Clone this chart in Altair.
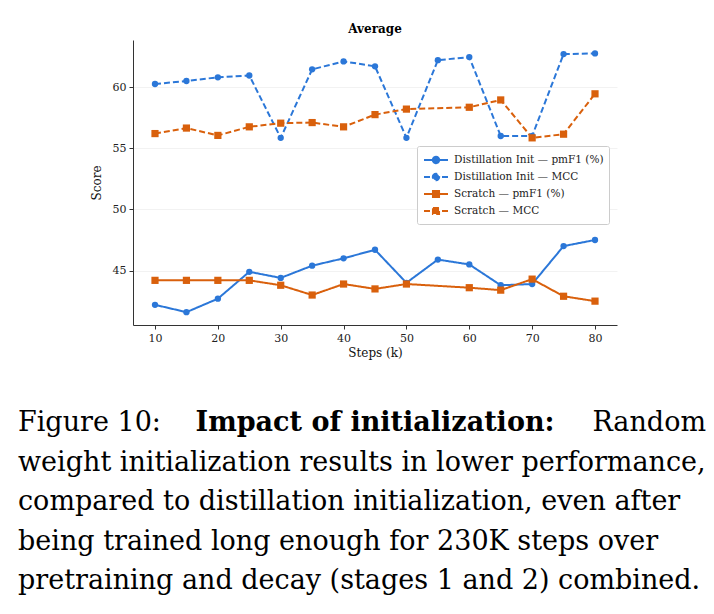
import altair as alt
import pandas as pd

# Training steps (thousands) and average scores per run
steps = [10, 15, 20, 25, 30, 35, 40, 45, 50, 55, 60, 65, 70, 75, 80]
distill_pmf1 = [42.2, 41.6, 42.7, 44.9, 44.4, 45.4, 46.0, 46.7, 44.0, 45.9, 45.5, 43.8, 43.9, 47.0, 47.5]
distill_mcc = [60.25, 60.5, 60.8, 60.95, 55.85, 61.45, 62.1, 61.7, 55.85, 62.2, 62.45, 56.0, 56.0, 62.7, 62.75]
scratch_pmf1 = [44.2, 44.2, 44.2, 44.2, 43.8, 43.0, 43.9, 43.5, 43.9, None, 43.6, 43.4, 44.3, 42.9, 42.5]
scratch_mcc = [56.2, 56.65, 56.05, 56.75, 57.05, 57.1, 56.75, 57.75, 58.2, None, 58.35, 58.95, 55.85, 56.15, 59.45]

series_names = [
    "Distillation Init — pmF1 (%)",
    "Distillation Init — MCC",
    "Scratch — pmF1 (%)",
    "Scratch — MCC",
]
series_values = [distill_pmf1, distill_mcc, scratch_pmf1, scratch_mcc]

BLUE = "#2b77d8"
ORANGE = "#d9600c"
series_colors = [BLUE, BLUE, ORANGE, ORANGE]
series_dashes = [[1, 0], [6, 3], [1, 0], [6, 3]]

# legend glyphs: a line segment with a marker in the middle
CIRCLE_GLYPH = "M-1.5,0L1.5,0M-0.4,0A0.4,0.4 0 1,1 0.4,0A0.4,0.4 0 1,1 -0.4,0Z"
SQUARE_GLYPH = "M-1.5,0L1.5,0M-0.38,-0.38H0.38V0.38H-0.38Z"
series_glyphs = [CIRCLE_GLYPH, CIRCLE_GLYPH, SQUARE_GLYPH, SQUARE_GLYPH]

caption_lines = [
    "weight initialization results in lower performance,",
    "compared to distillation initialization, even after",
    "being trained long enough for 230K steps over",
    "pretraining and decay (stages 1 and 2) combined.",
]

rows = []
for name, vals in zip(series_names, series_values):
    for s, v in zip(steps, vals):
        if v is not None:
            rows.append({"step": s, "score": v, "series": name})
df = pd.DataFrame(rows)

FONT = "'DejaVu Serif', 'Liberation Serif', serif"
CAP_FONT = "'DejaVu Serif', 'Liberation Serif', serif"
CAP_SIZE = 27

x_enc = alt.X(
    "step:Q",
    title="Steps (k)",
    scale=alt.Scale(domain=[6.5, 83.5], nice=False, zero=False),
    axis=alt.Axis(values=[10, 20, 30, 40, 50, 60, 70, 80], grid=False),
)
y_enc = alt.Y(
    "score:Q",
    title="Score",
    scale=alt.Scale(domain=[40.55, 63.85], nice=False, zero=False),
    axis=alt.Axis(values=[45, 50, 55, 60], grid=True, titlePadding=9),
)

legend = alt.Legend(
    title=None,
    orient="none",
    legendX=284,
    legendY=106,
    fillColor="white",
    strokeColor="#cccccc",
    padding=5,
    cornerRadius=2,
    rowPadding=0,
    symbolSize=256,
    symbolStrokeWidth=2,
    symbolOffset=5,
    labelOffset=9,
    labelFont=FONT,
    labelFontSize=10.5,
    labelColor="#222222",
)

color_enc = alt.Color(
    "series:N",
    scale=alt.Scale(domain=series_names, range=series_colors),
    legend=legend,
)

lines = alt.Chart(df).mark_line(strokeWidth=2).encode(
    x=x_enc,
    y=y_enc,
    color=color_enc,
    strokeDash=alt.StrokeDash(
        "series:N", scale=alt.Scale(domain=series_names, range=series_dashes), legend=legend
    ),
    shape=alt.Shape(
        "series:N", scale=alt.Scale(domain=series_names, range=series_glyphs), legend=legend
    ),
)


def markers(name, mark, color, size):
    return (
        alt.Chart(df)
        .transform_filter(alt.datum.series == name)
        .mark_point(shape=mark, filled=True, size=size, opacity=1)
        .encode(x="step:Q", y="score:Q", color=alt.value(color))
    )


point_layers = [
    markers(series_names[0], "circle", BLUE, 40),
    markers(series_names[1], "circle", BLUE, 40),
    markers(series_names[2], "square", ORANGE, 52),
    markers(series_names[3], "square", ORANGE, 52),
]

# Caption below the plot (coordinates relative to the plot origin)
cap_base = alt.Chart(pd.DataFrame({"k": [0]}))
LEFT = -115
RIGHT = 573
first_y = 391
gap = 39.5


def cap_text(text, x, y, weight="normal", align="left"):
    return cap_base.mark_text(
        text=text,
        font=CAP_FONT,
        fontSize=CAP_SIZE,
        fontWeight=weight,
        align=align,
        baseline="alphabetic",
        color="black",
    ).encode(x=alt.value(x), y=alt.value(y))


caption = [
    cap_text("Figure 10:", LEFT, first_y),
    cap_text("Impact of initialization:", 242, first_y, weight="bold", align="center"),
    cap_text("Random", RIGHT, first_y, align="right"),
]
for i, line in enumerate(caption_lines):
    caption.append(cap_text(line, LEFT, first_y + gap * (i + 1)))

chart = (
    alt.layer(lines, *point_layers, *caption)
    .properties(
        width=484,
        height=285,
        autosize="none",
        padding={"left": 133, "top": 40, "right": 97, "bottom": 289},
        title=alt.TitleParams(
            "Average", font=FONT, fontSize=12, fontWeight="bold", anchor="middle", offset=4, color="black"
        ),
    )
    .configure_view(stroke=None)
    .configure_axis(
        labelFont=FONT,
        labelFontSize=11,
        labelColor="#222222",
        titleFont=FONT,
        titleFontSize=12,
        titleFontWeight="normal",
        titleColor="#111111",
        domainColor="#333333",
        tickColor="#333333",
        tickSize=4,
        labelPadding=3,
        gridColor="#efefef",
        gridWidth=0.8,
    )
    .configure_axisX(titlePadding=4)
)

chart.save("out.html", embed_options={"renderer": "svg", "actions": False})
